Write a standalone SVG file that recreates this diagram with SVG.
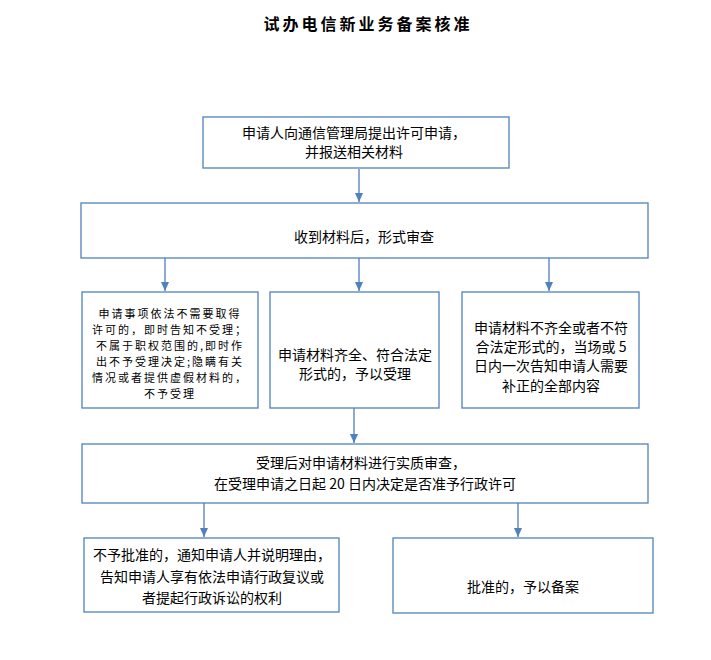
<svg xmlns="http://www.w3.org/2000/svg" width="711" height="660" viewBox="0 0 711 660">
<defs>
<style>
.box{fill:#fff;stroke:#4F81BD;stroke-width:1.3}
.t{font-family:"Noto Sans CJK SC","Liberation Sans",sans-serif;font-size:14px;fill:#000;text-anchor:middle}
.s{font-size:11px;letter-spacing:2px}
.title{font-family:"Noto Sans CJK SC","Liberation Sans",sans-serif;font-size:16px;font-weight:bold;fill:#000;text-anchor:middle;letter-spacing:3px}
.ln{stroke:#8EA9D6;stroke-width:2;fill:none}
</style>
<marker id="ah" markerWidth="9" markerHeight="8" refX="9" refY="4" orient="auto" markerUnits="userSpaceOnUse" viewBox="0 0 9 8">
<path d="M0,0 L9,4 L0,8 Z" fill="#4F81BD"/>
</marker>
</defs>
<rect width="711" height="660" fill="#fff"/>
<text class="title" x="368" y="30">试办电信新业务备案核准</text>

<g id="connectors">
<line class="ln" x1="359" y1="169" x2="359" y2="202" marker-end="url(#ah)"/>
<line class="ln" x1="165" y1="258" x2="165" y2="291" marker-end="url(#ah)"/>
<line class="ln" x1="359" y1="258" x2="359" y2="291" marker-end="url(#ah)"/>
<line class="ln" x1="549" y1="258" x2="549" y2="291" marker-end="url(#ah)"/>
<line class="ln" x1="354" y1="408" x2="354" y2="443" marker-end="url(#ah)"/>
<line class="ln" x1="204" y1="503" x2="204" y2="537" marker-end="url(#ah)"/>
<line class="ln" x1="518" y1="503" x2="518" y2="537" marker-end="url(#ah)"/>
</g>

<g id="n1">
<rect class="box" x="203" y="117" width="306" height="51"/>
<text class="t" x="354" y="138">申请人向通信管理局提出许可申请，</text>
<text class="t" x="354" y="157">并报送相关材料</text>
</g>

<g id="n2">
<rect class="box" x="81" y="203" width="567" height="55"/>
<text class="t" x="364" y="242">收到材料后，形式审查</text>
</g>

<g id="n3">
<rect class="box" x="82" y="292" width="176" height="116"/>
<text class="t s" x="170" y="318">申请事项依法不需要取得</text>
<text class="t s" x="170" y="334">许可的，即时告知不受理；</text>
<text class="t s" x="170" y="350">不属于职权范围的,即时作</text>
<text class="t s" x="170" y="366">出不予受理决定;隐瞒有关</text>
<text class="t s" x="170" y="382">情况或者提供虚假材料的，</text>
<text class="t s" x="170" y="398">不予受理</text>
</g>

<g id="n4">
<rect class="box" x="270" y="292" width="169" height="116"/>
<text class="t" x="355" y="360">申请材料齐全、符合法定</text>
<text class="t" x="355" y="379">形式的，予以受理</text>
</g>

<g id="n5">
<rect class="box" x="462" y="292" width="177" height="116"/>
<text class="t" x="551" y="333">申请材料不齐全或者不符</text>
<text class="t" x="551" y="352">合法定形式的，当场或 5</text>
<text class="t" x="551" y="371">日内一次告知申请人需要</text>
<text class="t" x="551" y="391">补正的全部内容</text>
</g>

<g id="n6">
<rect class="box" x="82" y="444" width="566" height="59"/>
<text class="t" x="361" y="468">受理后对申请材料进行实质审查，</text>
<text class="t" x="365" y="489">在受理申请之日起 20 日内决定是否准予行政许可</text>
</g>

<g id="n7">
<rect class="box" x="84" y="538" width="255" height="74"/>
<text class="t" x="212" y="560">不予批准的，通知申请人并说明理由，</text>
<text class="t" x="212" y="582">告知申请人享有依法申请行政复议或</text>
<text class="t" x="212" y="603">者提起行政诉讼的权利</text>
</g>

<g id="n8">
<rect class="box" x="393" y="538" width="260" height="75"/>
<text class="t" x="523" y="592">批准的，予以备案</text>
</g>
</svg>
